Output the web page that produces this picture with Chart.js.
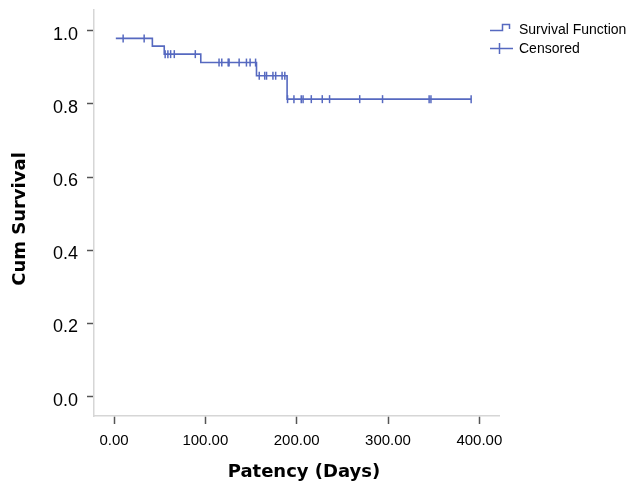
<!DOCTYPE html>
<html>
<head>
<meta charset="utf-8">
<script src="https://cdn.jsdelivr.net/npm/chart.js@4/dist/chart.umd.min.js"></script>
<style>
html,body{margin:0;padding:0;background:#fff;}
canvas{display:block;}
</style>
</head>
<body>
<canvas id="c" width="631" height="486"></canvas>
<script>
// Kaplan-Meier survival function (event times and survival after each step)
const survTimes  = [2, 42, 55, 95, 156, 189.5, 391];
const survValues = [0.979, 0.958, 0.936, 0.913, 0.877, 0.813, 0.813];
// Censored observations
const censTimes  = [10, 33, 56, 59, 62, 66, 89, 115, 118, 125, 126, 137, 145, 149, 155,
                    159, 165, 167, 174, 177, 184, 187,
                    190, 197, 205, 207, 216, 228, 236, 269, 294, 345, 347, 391];
const censValues = [0.979, 0.979, 0.936, 0.936, 0.936, 0.936, 0.936,
                    0.913, 0.913, 0.913, 0.913, 0.913, 0.913, 0.913, 0.913,
                    0.877, 0.877, 0.877, 0.877, 0.877, 0.877, 0.877,
                    0.813, 0.813, 0.813, 0.813, 0.813, 0.813, 0.813, 0.813, 0.813, 0.813, 0.813, 0.813];
const xTickValues = [0, 100, 200, 300, 400];
const yTickValues = [0, 0.2, 0.4, 0.6, 0.8, 1.0];
const legendLabels = ['Survival Function', 'Censored'];
const xTitle = 'Patency (Days)';
const yTitle = 'Cum Survival';

const BLUE = '#5669c0';

const overlay = {
  id: 'overlay',
  afterDraw(chart) {
    const ctx = chart.ctx;
    ctx.save();
    // axis titles
    ctx.fillStyle = '#000';
    ctx.font = 'bold 18px "DejaVu Sans", sans-serif';
    ctx.textAlign = 'center';
    ctx.textBaseline = 'middle';
    ctx.fillText(xTitle, 304, 472);
    ctx.save();
    ctx.translate(20, 219);
    ctx.rotate(-Math.PI / 2);
    ctx.fillText(yTitle, 0, 0);
    ctx.restore();
    // legend
    ctx.strokeStyle = BLUE;
    ctx.lineWidth = 1.5;
    ctx.beginPath();
    ctx.moveTo(490, 30.5);
    ctx.lineTo(502.5, 30.5);
    ctx.lineTo(502.5, 24.5);
    ctx.lineTo(509.5, 24.5);
    ctx.lineTo(509.5, 29);
    ctx.stroke();
    ctx.beginPath();
    ctx.moveTo(490, 48.5);
    ctx.lineTo(513, 48.5);
    ctx.moveTo(499.5, 43);
    ctx.lineTo(499.5, 54);
    ctx.stroke();
    ctx.fillStyle = '#000';
    ctx.font = '14px "Liberation Sans", Arial, sans-serif';
    ctx.textAlign = 'left';
    ctx.textBaseline = 'middle';
    ctx.fillText(legendLabels[0], 519, 30.5);
    ctx.fillText(legendLabels[1], 519, 49);
    ctx.restore();
  }
};

new Chart(document.getElementById('c'), {
  data: {
    datasets: [
      {
        type: 'line',
        label: legendLabels[0],
        data: survTimes.map((t, i) => ({x: t, y: survValues[i]})),
        stepped: true,
        borderColor: BLUE,
        borderWidth: 1.6,
        pointRadius: 0,
        fill: false
      },
      {
        type: 'scatter',
        label: legendLabels[1],
        data: censTimes.map((t, i) => ({x: t, y: censValues[i]})),
        pointStyle: 'line',
        rotation: 90,
        pointRadius: 4,
        pointBorderWidth: 1.5,
        borderColor: BLUE,
        backgroundColor: BLUE,
        pointHoverRadius: 4
      }
    ]
  },
  options: {
    responsive: false,
    animation: false,
    events: [],
    layout: {padding: {top: 10, right: 132, left: 0, bottom: 0}},
    plugins: {legend: {display: false}, tooltip: {enabled: false}},
    scales: {
      x: {
        type: 'linear',
        min: -21.9,
        max: 421.5,
        afterBuildTicks(scale) { scale.ticks = xTickValues.map(v => ({value: v})); },
        afterFit(scale) { scale.height = 70; scale.paddingLeft = 0; scale.paddingRight = 0; },
        ticks: {
          autoSkip: false,
          maxRotation: 0,
          padding: 8,
          color: '#000',
          font: {family: '"Liberation Sans", Arial, sans-serif', size: 15},
          callback: v => Number(v).toFixed(2)
        },
        grid: {drawOnChartArea: false, drawTicks: true, tickLength: 8, tickColor: '#555', tickWidth: 1.5},
        border: {display: true, color: '#d6d6d6', width: 1.5}
      },
      y: {
        type: 'linear',
        min: -0.0527,
        max: 1.0566,
        afterBuildTicks(scale) { scale.ticks = yTickValues.map(v => ({value: v})); },
        afterFit(scale) { scale.width = 94; scale.paddingTop = 0; scale.paddingBottom = 0; },
        ticks: {
          autoSkip: false,
          padding: 9,
          labelOffset: 4,
          color: '#000',
          font: {family: '"Liberation Sans", Arial, sans-serif', size: 18},
          callback: v => Number(v).toFixed(1)
        },
        grid: {drawOnChartArea: false, drawTicks: true, tickLength: 7, tickColor: '#555', tickWidth: 1.5},
        border: {display: true, color: '#d6d6d6', width: 1.5}
      }
    }
  },
  plugins: [overlay]
});
</script>
</body>
</html>
